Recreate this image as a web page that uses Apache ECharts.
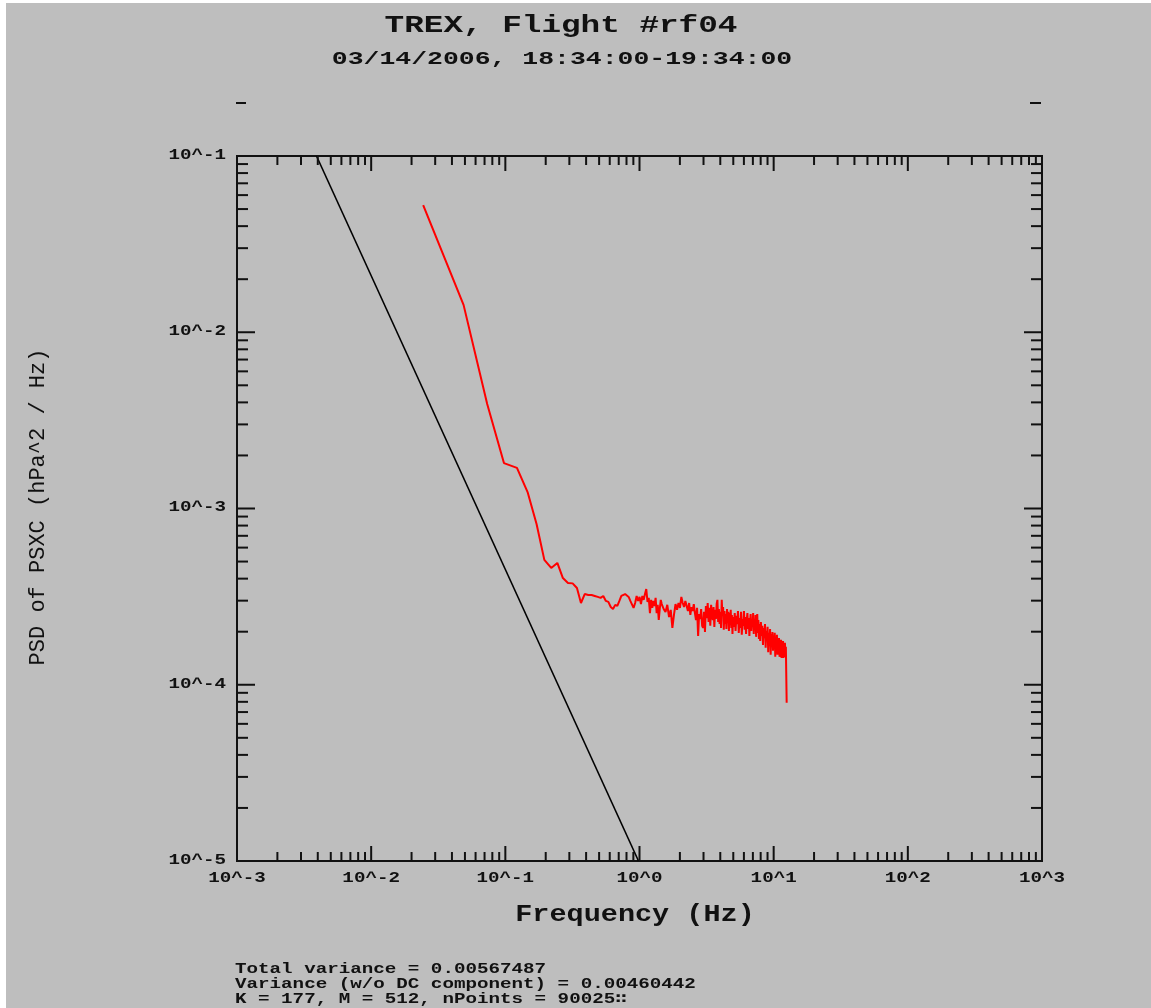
<!DOCTYPE html>
<html>
<head>
<meta charset="utf-8">
<title>TREX, Flight #rf04 - PSD of PSXC</title>
<script src="https://cdn.jsdelivr.net/npm/echarts@6/dist/echarts.min.js"></script>
<style>
  html, body { margin: 0; padding: 0; background: #ffffff; }
  #chart { width: 1151px; height: 1008px; }
</style>
</head>
<body>
<div id="chart"></div>
<script>
// Spectral resolution: 25 Hz sampling, 2*M = 1024 point segments
const sampleRateHz = 25;
const segmentLength = 1024;

// FFT bin indices of the plotted spectrum
const bins = [
  1,2,3,4,5,6,7,8,9,10,11,12,13,14,15,16,17,18,19,20,
  21,22,23,24,25,26,27,28,29,30,31,32,33,34,35,36,37,38,39,40,
  41,42,43,44,45,46,47,48,49,50,51,52,53,54,55,56,57,58,59,60,
  62,64,66,68,70,72,74,76,78,80,82,84,86,88,90,92,94,96,98,100,
  102,104,106,108,110,112,114,116,118,120,
  122,124,126,128,130,132,134,136,138,140,142,144,146,148,150,152,154,156,158,160,
  162,164,166,168,170,172,174,176,178,180,182,184,186,188,190,192,194,196,198,200,
  202,204,
  207,210,213,216,219,222,225,228,231,234,237,240,243,246,249,252,255,258,261,264,
  267,270,273,276,279,282,285,288,291,294,297,300,303,306,309,312,315,318,321,
  325,329,333,337,341,345,349,353,357,361,365,369,373,377,381,385,389,393,397,401,
  405,409,413,417,421,425,429,433,437,441,445,449,453,457,461,465,469,473,477,481,
  485,489,493,497,501,505,509,512
];

// PSD of PSXC (hPa^2 / Hz) at each bin
const psd = [
  5.27e-2,1.43e-2,3.92e-3,1.81e-3,1.70e-3,1.24e-3,8.17e-4,5.11e-4,4.60e-4,4.91e-4,
  4.03e-4,3.78e-4,3.76e-4,3.54e-4,2.91e-4,3.27e-4,3.23e-4,3.23e-4,3.19e-4,3.15e-4,
  3.11e-4,3.19e-4,2.99e-4,2.95e-4,2.76e-4,2.69e-4,2.84e-4,2.80e-4,2.99e-4,3.19e-4,
  3.27e-4,3.27e-4,3.23e-4,3.15e-4,2.99e-4,2.95e-4,2.73e-4,2.91e-4,3.19e-4,2.99e-4,
  3.15e-4,2.87e-4,3.19e-4,3.03e-4,3.27e-4,3.49e-4,2.95e-4,3.11e-4,2.55e-4,3.03e-4,
  2.73e-4,2.99e-4,2.80e-4,3.11e-4,2.55e-4,2.84e-4,2.33e-4,2.69e-4,3.03e-4,2.87e-4,
  2.69e-4,2.59e-4,2.84e-4,2.42e-4,2.66e-4,2.10e-4,2.49e-4,2.87e-4,2.66e-4,2.91e-4,
  2.73e-4,3.15e-4,2.91e-4,2.76e-4,2.99e-4,2.80e-4,2.62e-4,2.91e-4,2.49e-4,2.76e-4,
  2.62e-4,2.87e-4,2.55e-4,2.33e-4,2.73e-4,1.89e-4,2.52e-4,2.36e-4,2.69e-4,2.16e-4,
  2.10e-4,2.59e-4,1.99e-4,2.80e-4,2.39e-4,2.91e-4,2.27e-4,2.73e-4,2.16e-4,2.84e-4,
  2.49e-4,2.33e-4,2.76e-4,2.13e-4,2.66e-4,2.36e-4,2.87e-4,3.03e-4,2.27e-4,2.69e-4,
  2.21e-4,2.59e-4,2.10e-4,3.03e-4,2.46e-4,2.76e-4,2.05e-4,2.62e-4,2.21e-4,2.52e-4,
  2.07e-4,2.69e-4,2.30e-4,2.59e-4,2.02e-4,2.55e-4,2.18e-4,2.66e-4,2.10e-4,2.49e-4,
  1.94e-4,2.42e-4,
  2.13e-4,2.55e-4,2.02e-4,2.46e-4,2.21e-4,2.62e-4,1.97e-4,2.39e-4,2.10e-4,2.59e-4,
  1.92e-4,2.36e-4,2.16e-4,2.62e-4,2.05e-4,2.42e-4,1.94e-4,2.33e-4,2.55e-4,2.07e-4,
  2.39e-4,1.89e-4,2.27e-4,2.52e-4,2.02e-4,2.36e-4,2.13e-4,2.55e-4,1.94e-4,2.30e-4,
  2.07e-4,2.49e-4,1.87e-4,2.27e-4,2.52e-4,1.97e-4,2.33e-4,1.82e-4,2.21e-4,
  1.77e-4,2.27e-4,1.89e-4,2.16e-4,1.68e-4,2.10e-4,1.84e-4,2.21e-4,1.62e-4,2.02e-4,
  1.77e-4,2.13e-4,1.53e-4,1.97e-4,1.73e-4,2.07e-4,1.48e-4,1.94e-4,1.66e-4,1.99e-4,
  1.56e-4,1.87e-4,1.70e-4,1.97e-4,1.44e-4,1.82e-4,1.60e-4,1.92e-4,1.48e-4,1.77e-4,
  1.58e-4,1.84e-4,1.44e-4,1.73e-4,1.53e-4,1.80e-4,1.42e-4,1.68e-4,1.50e-4,1.77e-4,
  1.42e-4,1.66e-4,1.48e-4,1.73e-4,1.44e-4,1.64e-4,1.68e-4,7.9e-5
];

// -5/3 reference slope line
const refLineFreq = [0.003914, 0.9832];
const refLinePsd = [1e-1, 1e-5];

// Axis ranges and decade ticks
const xMin = 1e-3, xMax = 1e3;
const yMin = 1e-5, yMax = 1e-1;
const xDecades = [1e-3, 1e-2, 1e-1, 1, 10, 100, 1000];
const xTickLabels = ['10^-3', '10^-2', '10^-1', '10^0', '10^1', '10^2', '10^3'];
const yDecades = [1e-5, 1e-4, 1e-3, 1e-2, 1e-1];
const yTickLabels = ['10^-5', '10^-4', '10^-3', '10^-2', '10^-1'];
const minorSteps = [2, 3, 4, 5, 6, 7, 8, 9];

const titleText = 'TREX, Flight #rf04';
const subtitleText = '03/14/2006, 18:34:00-19:34:00';
const xName = 'Frequency (Hz)';
const yName = 'PSD of PSXC (hPa^2 / Hz)';
const footerLines = [
  'Total variance = 0.00567487',
  'Variance (w/o DC component) = 0.00460442',
  'K = 177, M = 512, nPoints = 90025\u2237'
];

const binWidthHz = sampleRateHz / segmentLength;
const spectrum = bins.map((b, i) => [b * binWidthHz, psd[i]]);
const refLine = refLineFreq.map((f, i) => [f, refLinePsd[i]]);

// decade (major) and 2..9 (minor) tick values: [value, isMajor]
function tickSet(decades) {
  const out = [];
  decades.forEach((d, i) => {
    out.push([d, 1]);
    if (i < decades.length - 1) minorSteps.forEach(s => out.push([d * s, 0]));
  });
  return out;
}
const xTicks = tickSet(xDecades);
const yTicks = tickSet(yDecades);

const INK = '#111111';
const MONO = '"Liberation Mono", "DejaVu Sans Mono", monospace';
const LABEL_FONT = 'bold 15px ' + MONO;

// inward ticks on bottom and top edges
function xTickItem(params, api) {
  const v = api.value(0);
  const len = api.value(1) === 1 ? 15 : 9;
  const b = api.coord([v, yMin]);
  const t = api.coord([v, yMax]);
  return { type: 'group', children: [
    { type: 'line', shape: { x1: b[0], y1: b[1], x2: b[0], y2: b[1] - len }, style: { stroke: INK, lineWidth: 2 } },
    { type: 'line', shape: { x1: t[0], y1: t[1], x2: t[0], y2: t[1] + len }, style: { stroke: INK, lineWidth: 2 } }
  ]};
}
// inward ticks on left and right edges
function yTickItem(params, api) {
  const v = api.value(1);
  const len = api.value(0) === 1 ? 18 : 11;
  const l = api.coord([xMin, v]);
  const r = api.coord([xMax, v]);
  return { type: 'group', children: [
    { type: 'line', shape: { x1: l[0], y1: l[1], x2: l[0] + len, y2: l[1] }, style: { stroke: INK, lineWidth: 2 } },
    { type: 'line', shape: { x1: r[0], y1: r[1], x2: r[0] - len, y2: r[1] }, style: { stroke: INK, lineWidth: 2 } }
  ]};
}
function xLabelItem(params, api) {
  const p = api.coord([api.value(0), yMin]);
  return { type: 'text', x: p[0], y: p[1] + 17, scaleX: 1.28,
    style: { text: xTickLabels[params.dataIndex], font: LABEL_FONT, fill: INK, align: 'center', verticalAlign: 'middle' } };
}
function yLabelItem(params, api) {
  const p = api.coord([xMin, api.value(1)]);
  return { type: 'text', x: p[0] - 11, y: p[1] - 1, scaleX: 1.28,
    style: { text: yTickLabels[params.dataIndex], font: LABEL_FONT, fill: INK, align: 'right', verticalAlign: 'middle' } };
}

const chart = echarts.init(document.getElementById('chart'), null, { renderer: 'canvas' });
chart.setOption({
  animation: false,
  backgroundColor: '#bebebe',
  grid: { left: 237, top: 156, width: 805, height: 705, show: true, borderColor: INK, borderWidth: 2, backgroundColor: 'transparent' },
  xAxis: { type: 'log', logBase: 10, min: xMin, max: xMax,
    axisLine: { show: false }, axisTick: { show: false }, axisLabel: { show: false }, splitLine: { show: false } },
  yAxis: { type: 'log', logBase: 10, min: yMin, max: yMax,
    axisLine: { show: false }, axisTick: { show: false }, axisLabel: { show: false }, splitLine: { show: false } },
  series: [
    { type: 'line', data: refLine, showSymbol: false, lineStyle: { color: '#000000', width: 1.6 }, z: 3 },
    { type: 'line', data: spectrum, showSymbol: false, lineStyle: { color: '#ff0000', width: 2 }, z: 4 },
    { type: 'custom', data: xTicks.map(t => [t[0], yMin, t[1]]), encode: { x: 0, y: 1 },
      renderItem: (p, a) => {
        const v = a.value(0);
        const len = a.value(2) === 1 ? 15 : 9;
        const b = a.coord([v, yMin]);
        const t = a.coord([v, yMax]);
        return { type: 'group', children: [
          { type: 'line', shape: { x1: b[0], y1: b[1], x2: b[0], y2: b[1] - len }, style: { stroke: INK, lineWidth: 2 } },
          { type: 'line', shape: { x1: t[0], y1: t[1], x2: t[0], y2: t[1] + len }, style: { stroke: INK, lineWidth: 2 } }
        ]};
      }, clip: false, silent: true, z: 5 },
    { type: 'custom', data: yTicks.map(t => [xMin, t[0], t[1]]), encode: { x: 0, y: 1 },
      renderItem: (p, a) => {
        const v = a.value(1);
        const len = a.value(2) === 1 ? 18 : 11;
        const l = a.coord([xMin, v]);
        const r = a.coord([xMax, v]);
        return { type: 'group', children: [
          { type: 'line', shape: { x1: l[0], y1: l[1], x2: l[0] + len, y2: l[1] }, style: { stroke: INK, lineWidth: 2 } },
          { type: 'line', shape: { x1: r[0], y1: r[1], x2: r[0] - len, y2: r[1] }, style: { stroke: INK, lineWidth: 2 } }
        ]};
      }, clip: false, silent: true, z: 5 },
    { type: 'custom', data: xDecades.map(d => [d, yMin]), encode: { x: 0, y: 1 }, renderItem: xLabelItem, clip: false, silent: true, z: 5 },
    { type: 'custom', data: yDecades.map(d => [xMin, d]), encode: { x: 0, y: 1 }, renderItem: yLabelItem, clip: false, silent: true, z: 5 }
  ],
  graphic: [
    { type: 'rect', left: 0, top: 0, shape: { width: 6, height: 1008 }, style: { fill: '#ffffff' }, z: 0, silent: true },
    { type: 'rect', left: 0, top: 0, shape: { width: 1151, height: 3 }, style: { fill: '#ffffff' }, z: 0, silent: true },
    { type: 'text', x: 561, y: 26, scaleX: 1.42,
      style: { text: titleText, font: 'bold 23px ' + MONO, fill: INK, align: 'center', verticalAlign: 'middle' } },
    { type: 'text', x: 562, y: 59, scaleX: 1.47,
      style: { text: subtitleText, font: 'bold 18px ' + MONO, fill: INK, align: 'center', verticalAlign: 'middle' } },
    { type: 'line', shape: { x1: 236, y1: 103, x2: 246, y2: 103 }, style: { stroke: INK, lineWidth: 2 } },
    { type: 'line', shape: { x1: 1030, y1: 103, x2: 1041, y2: 103 }, style: { stroke: INK, lineWidth: 2 } },
    { type: 'text', x: 635, y: 915, scaleX: 1.24,
      style: { text: xName, font: 'bold 23px ' + MONO, fill: INK, align: 'center', verticalAlign: 'middle' } },
    { type: 'text', x: 38, y: 507, rotation: Math.PI / 2,
      style: { text: yName, font: '22px ' + MONO, fill: INK, align: 'center', verticalAlign: 'middle' } },
    { type: 'text', x: 235, y: 969, scaleX: 1.28,
      style: { text: footerLines[0], font: LABEL_FONT, fill: INK, align: 'left', verticalAlign: 'middle' } },
    { type: 'text', x: 235, y: 984, scaleX: 1.28,
      style: { text: footerLines[1], font: LABEL_FONT, fill: INK, align: 'left', verticalAlign: 'middle' } },
    { type: 'text', x: 235, y: 999, scaleX: 1.28,
      style: { text: footerLines[2], font: LABEL_FONT, fill: INK, align: 'left', verticalAlign: 'middle' } }
  ]
});
</script>
</body>
</html>
